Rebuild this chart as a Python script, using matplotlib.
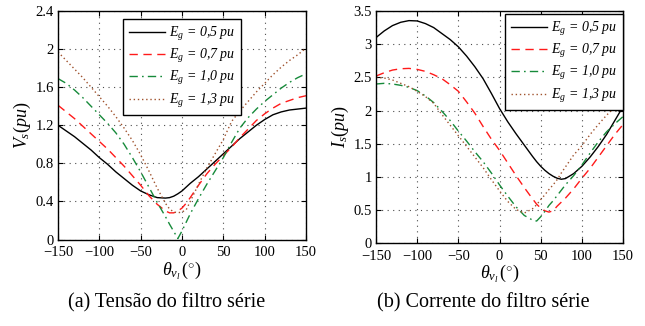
import matplotlib
matplotlib.use("Agg")
import matplotlib.pyplot as plt

plt.rcParams['font.family'] = ['Liberation Serif', 'DejaVu Serif']
plt.rcParams['mathtext.fontset'] = 'custom'
plt.rcParams['mathtext.rm'] = 'Liberation Serif'
plt.rcParams['mathtext.it'] = 'Liberation Serif:italic'
plt.rcParams['mathtext.bf'] = 'Liberation Serif:bold'

# ---- (a) tensao do filtro serie ----
theta_v = [-150, -140, -130, -120, -110, -100, -90, -80, -70, -60, -50, -40, -30, -20, -15, -10, -5,
           0, 5, 10, 20, 30, 40, 50, 60, 70, 80, 90, 100, 110, 120, 130, 140, 150]
vs_05 = [1.20, 1.14, 1.08, 1.01, 0.94, 0.86, 0.79, 0.71, 0.64, 0.57, 0.51, 0.47, 0.44, 0.435, 0.44, 0.455, 0.48,
         0.51, 0.55, 0.59, 0.66, 0.74, 0.82, 0.90, 0.98, 1.06, 1.13, 1.20, 1.26, 1.31, 1.34, 1.36, 1.37, 1.38]
vs_07 = [1.41, 1.34, 1.27, 1.19, 1.11, 1.03, 0.95, 0.86, 0.77, 0.67, 0.57, 0.46, 0.37, 0.30, 0.28, 0.28, 0.30,
         0.33, 0.38, 0.44, 0.57, 0.69, 0.79, 0.88, 0.97, 1.07, 1.16, 1.25, 1.32, 1.38, 1.43, 1.46, 1.49, 1.51]
vs_10 = [1.69, 1.64, 1.57, 1.49, 1.40, 1.31, 1.22, 1.12, 1.00, 0.86, 0.71, 0.55, 0.39, 0.24, 0.16, 0.085, 0.01,
         0.09, 0.18, 0.27, 0.43, 0.58, 0.72, 0.86, 1.02, 1.17, 1.28, 1.37, 1.45, 1.52, 1.59, 1.65, 1.70, 1.74]
vs_13 = [1.97, 1.88, 1.79, 1.70, 1.60, 1.50, 1.40, 1.29, 1.17, 1.04, 0.89, 0.72, 0.54, 0.38, 0.32, 0.29, 0.28,
         0.29, 0.31, 0.40, 0.58, 0.75, 0.90, 1.05, 1.24, 1.35, 1.45, 1.55, 1.64, 1.73, 1.81, 1.88, 1.94, 2.01]

# ---- (b) corrente do filtro serie ----
theta_i = [-150, -140, -130, -120, -110, -100, -90, -80, -70, -60, -50, -40, -30, -20, -10, 0, 10, 20, 30,
           40, 45, 50, 55, 60, 65, 70, 75, 80, 90, 100, 110, 120, 130, 140, 150]
is_05 = [3.10, 3.20, 3.28, 3.33, 3.355, 3.35, 3.31, 3.25, 3.16, 3.07, 2.96, 2.82, 2.66, 2.48, 2.26, 2.03, 1.83,
         1.65, 1.48, 1.31, 1.23, 1.16, 1.10, 1.05, 1.01, 0.98, 0.965, 0.975, 1.05, 1.16, 1.30, 1.46, 1.64, 1.85, 2.06]
is_07 = [2.52, 2.57, 2.61, 2.63, 2.635, 2.62, 2.59, 2.54, 2.48, 2.39, 2.29, 2.13, 1.96, 1.76, 1.57, 1.40, 1.21,
         1.02, 0.84, 0.67, 0.59, 0.53, 0.49, 0.47, 0.49, 0.56, 0.62, 0.68, 0.82, 0.98, 1.13, 1.30, 1.47, 1.64, 1.79]
is_10 = [2.40, 2.41, 2.40, 2.38, 2.35, 2.30, 2.22, 2.12, 1.99, 1.85, 1.69, 1.54, 1.38, 1.23, 1.06, 0.88, 0.71,
         0.55, 0.42, 0.35, 0.335, 0.40, 0.48, 0.57, 0.64, 0.72, 0.80, 0.88, 1.02, 1.18, 1.36, 1.53, 1.68, 1.80, 1.91]
is_13 = [2.50, 2.49, 2.46, 2.41, 2.36, 2.29, 2.21, 2.11, 1.94, 1.78, 1.62, 1.46, 1.30, 1.14, 0.96, 0.79, 0.63,
         0.51, 0.455, 0.52, 0.58, 0.66, 0.73, 0.81, 0.88, 0.96, 1.06, 1.15, 1.33, 1.47, 1.64, 1.79, 1.93, 2.05, 2.15]

labels = [r'$E_g$ = 0,5 pu', r'$E_g$ = 0,7 pu', r'$E_g$ = 1,0 pu', r'$E_g$ = 1,3 pu']
colors = ['black', '#ff1a1a', '#168a3a', '#a0522d']
styles = ['-', (0, (6, 4)), (0, (6, 3, 1.2, 3)), (0, (1, 2))]

fig = plt.figure(figsize=(6.45, 3.26), dpi=100)
ax1 = fig.add_axes([0.0899, 0.2653, 0.3845, 0.701])
ax2 = fig.add_axes([0.583, 0.2537, 0.383, 0.7126])


def draw(ax, x, series, yticks, ylabel, anchor, loc):
    for y, c, ls, lab in zip(series, colors, styles, labels):
        ax.plot(x, y, color=c, linestyle=ls, linewidth=1.0, label=lab)
    ax.set_xlim(-150, 150)
    ax.set_ylim(yticks[0], yticks[-1])
    ax.set_xticks([-150, -100, -50, 0, 50, 100, 150])
    ax.set_yticks(yticks)
    ax.set_yticklabels(['%g' % t for t in yticks])
    ax.tick_params(direction='in', top=True, right=True, length=3.5, labelsize=10.5)
    ax.tick_params(axis='x', pad=5)
    ax.tick_params(axis='y', pad=3)
    ax.grid(True, linestyle=(0, (1, 4)), color='0.3', linewidth=0.8)
    for s in ax.spines.values():
        s.set_linewidth(1.0)
    ax.set_xlabel(r'$\theta_{v_l}\,(^{\circ})$', fontsize=13, labelpad=0)
    ax.set_ylabel(ylabel, fontsize=13, labelpad=2)
    leg = ax.legend(loc=loc, bbox_to_anchor=anchor, borderaxespad=0, fancybox=False,
                    edgecolor='black', framealpha=1, handlelength=2.6, handletextpad=0.3,
                    labelspacing=0.32, borderpad=0.4,
                    prop={'family': 'Liberation Serif', 'style': 'italic', 'size': 10})
    leg.get_frame().set_linewidth(1.0)


draw(ax1, theta_v, [vs_05, vs_07, vs_10, vs_13], [0, 0.4, 0.8, 1.2, 1.6, 2.0, 2.4],
     r'$V_s(pu)$', (0.262, 0.965), 'upper left')
draw(ax2, theta_i, [is_05, is_07, is_10, is_13], [0, 0.5, 1, 1.5, 2, 2.5, 3, 3.5],
     r'$I_s(pu)$', (1.0, 0.987), 'upper right')

fig.text(0.259, 0.07, '(a) Tensão do filtro série', ha='center', va='center', fontsize=14.5)
fig.text(0.750, 0.07, '(b) Corrente do filtro série', ha='center', va='center', fontsize=14.5)

fig.savefig('out.png', dpi=100)
